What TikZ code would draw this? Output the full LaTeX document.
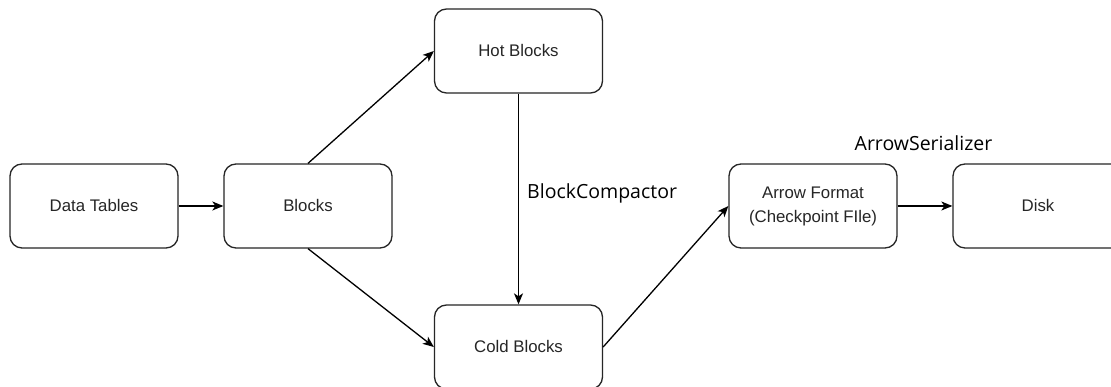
\documentclass[tikz,border=0pt]{standalone}
\usepackage{fontspec}
\setmainfont{Liberation Sans}
\newfontfamily\labelfont{Open Sans}
\usetikzlibrary{arrows.meta}
\begin{document}
\begin{tikzpicture}[x=1pt,y=1pt,
  box/.style={draw=black!85, line width=1.3pt, rounded corners=12pt, minimum width=168pt, minimum height=84pt, inner sep=0pt, align=center, font=\fontsize{16.8}{24}\selectfont, text=black!85},
  conn/.style={draw=black, line width=1.3pt, -{Stealth[length=11pt,width=9pt,inset=3pt]}},
  lbl/.style={font=\labelfont\fontsize{19.5}{22}\selectfont, text=black, inner sep=0pt}]
\useasboundingbox (0,0) rectangle (1111,387);
\clip (0,0) rectangle (1111,387);
\fill[white] (0,0) rectangle (1111,387);
\node[box] (dt) at (94,181) {Data Tables};
\node[box] (bl) at (308,181) {Blocks};
\node[box] (hot) at (518.5,336) {Hot Blocks};
\node[box] (cold) at (518.5,40) {Cold Blocks};
\node[box] (af) at (813,181) {Arrow Format\\(Checkpoint FIle)};
\node[box, minimum width=170pt] (disk) at (1038,181) {Disk};
\draw[conn] (dt) -- (bl);
\draw[conn] (bl.north) -- (hot.west);
\draw[conn] (bl.south) -- (cold.west);
\draw[conn] (hot.south) -- (cold.north);
\draw[conn] (cold.east) -- (af.west);
\draw[conn] (af) -- (disk);
\node[lbl, anchor=west] (bc) at (527,194) {BlockCompactor};
\node[lbl] (as) at (923.5,244) {ArrowSerializer};
\end{tikzpicture}
\end{document}
